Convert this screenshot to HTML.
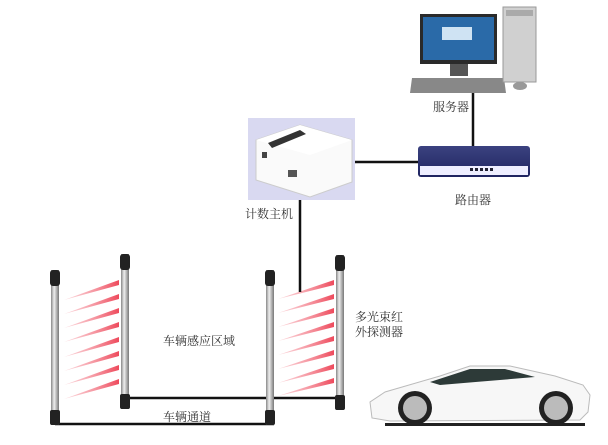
<!DOCTYPE html>
<html><head><meta charset="utf-8"><style>
html,body{margin:0;padding:0;background:#fff;width:608px;height:445px;overflow:hidden}
svg{display:block}
text{font-family:"Liberation Serif","Noto Serif CJK SC",serif;font-size:12px;fill:#333}
</style></head><body>
<svg width="608" height="445" viewBox="0 0 608 445">
<defs>
<linearGradient id="ray" x1="0" x2="1"><stop offset="0" stop-color="#f7a0aa" stop-opacity="0.4"/><stop offset="1" stop-color="#ee4a5c"/></linearGradient>
<linearGradient id="pole" x1="0" x2="1"><stop offset="0" stop-color="#888"/><stop offset="0.4" stop-color="#eee"/><stop offset="1" stop-color="#777"/></linearGradient>
<linearGradient id="rt" x1="0" y1="0" x2="0" y2="1"><stop offset="0" stop-color="#3b4280"/><stop offset="1" stop-color="#1f2460"/></linearGradient>
<symbol id="p" viewBox="0 0 10 155"><rect x="1" y="0" width="8" height="155" fill="url(#pole)"/><rect x="0" y="0" width="10" height="16" rx="3" fill="#222"/><rect x="0" y="140" width="10" height="15" rx="2" fill="#222"/></symbol>
</defs>
<g fill="url(#ray)">
<polygon points="64,300 119,280 119,285"/><polygon points="64,314 119,294 119,299"/><polygon points="64,328 119,308 119,313"/><polygon points="64,342 119,322 119,327"/><polygon points="64,357 119,337 119,342"/><polygon points="64,371 119,351 119,356"/><polygon points="64,385 119,365 119,370"/><polygon points="64,399 119,379 119,384"/>
<polygon points="278,299 334,280 334,285"/><polygon points="278,313 334,294 334,299"/><polygon points="278,327 334,308 334,313"/><polygon points="278,341 334,322 334,327"/><polygon points="278,355 334,336 334,341"/><polygon points="278,369 334,350 334,355"/><polygon points="278,383 334,364 334,369"/><polygon points="278,396 334,378 334,383"/>
</g>
<g stroke="#111" stroke-width="2.5" fill="none">
<line x1="125" y1="398" x2="342" y2="398"/>
<line x1="55" y1="424" x2="274" y2="424"/>
<line x1="300" y1="190" x2="300" y2="292"/>
<line x1="355" y1="162" x2="420" y2="162"/>
<line x1="473" y1="93" x2="473" y2="146"/>
</g>
<use href="#p" x="50" y="270" width="10" height="155"/>
<use href="#p" x="120" y="254" width="10" height="155"/>
<use href="#p" x="265" y="270" width="10" height="155"/>
<use href="#p" x="335" y="255" width="10" height="155"/>
<rect x="248" y="118" width="107" height="82" fill="#d9d9f1"/>
<path d="M256 140 L300 125 L352 140 L352 182 L310 197 L256 180 Z" fill="#fafafa" stroke="#ccc"/>
<path d="M256 140 L300 125 L352 140 L310 155 Z" fill="#fff"/>
<polygon points="268,143 300,130 306,134 272,148" fill="#333"/>
<rect x="262" y="152" width="5" height="6" fill="#444"/><rect x="288" y="170" width="9" height="7" fill="#555"/>
<rect x="418" y="146" width="112" height="31" rx="3" fill="url(#rt)"/>
<rect x="420" y="166" width="108" height="9" fill="#eef"/>
<g fill="#223"><rect x="470" y="168" width="3" height="3"/><rect x="475" y="168" width="3" height="3"/><rect x="480" y="168" width="3" height="3"/><rect x="485" y="168" width="3" height="3"/><rect x="490" y="168" width="3" height="3"/></g>
<rect x="420" y="14" width="77" height="50" fill="#2a2a2a"/>
<rect x="423" y="17" width="71" height="43" fill="#2a6aa8"/>
<rect x="442" y="27" width="30" height="13" fill="#cfe3f3"/>
<rect x="450" y="64" width="18" height="12" fill="#555"/>
<polygon points="412,78 504,78 506,93 410,93" fill="#888"/>
<rect x="503" y="7" width="33" height="75" fill="#d0d0d0" stroke="#999"/>
<rect x="506" y="10" width="27" height="6" fill="#aaa"/>
<ellipse cx="520" cy="86" rx="7" ry="4" fill="#999"/>
<path d="M372 418 L370 402 L385 392 L440 376 L470 366 L510 366 L555 376 L583 385 L590 395 L588 412 L580 420 L390 421 Z" fill="#f7f7f7" stroke="#bbb"/>
<path d="M430 382 L470 369 L505 369 L535 377 L440 385 Z" fill="#2d3a38"/>
<rect x="385" y="423" width="200" height="3" fill="#222"/>
<circle cx="415" cy="408" r="17" fill="#222"/><circle cx="415" cy="408" r="12" fill="#bbb"/>
<circle cx="556" cy="408" r="17" fill="#222"/><circle cx="556" cy="408" r="12" fill="#bbb"/>
<text x="433" y="111">服务器</text>
<text x="455" y="204">路由器</text>
<text x="245" y="218">计数主机</text>
<text x="163" y="345">车辆感应区域</text>
<text x="163" y="421">车辆通道</text>
<text x="355" y="321">多光束红</text>
<text x="355" y="336">外探测器</text>
</svg>
</body></html>
